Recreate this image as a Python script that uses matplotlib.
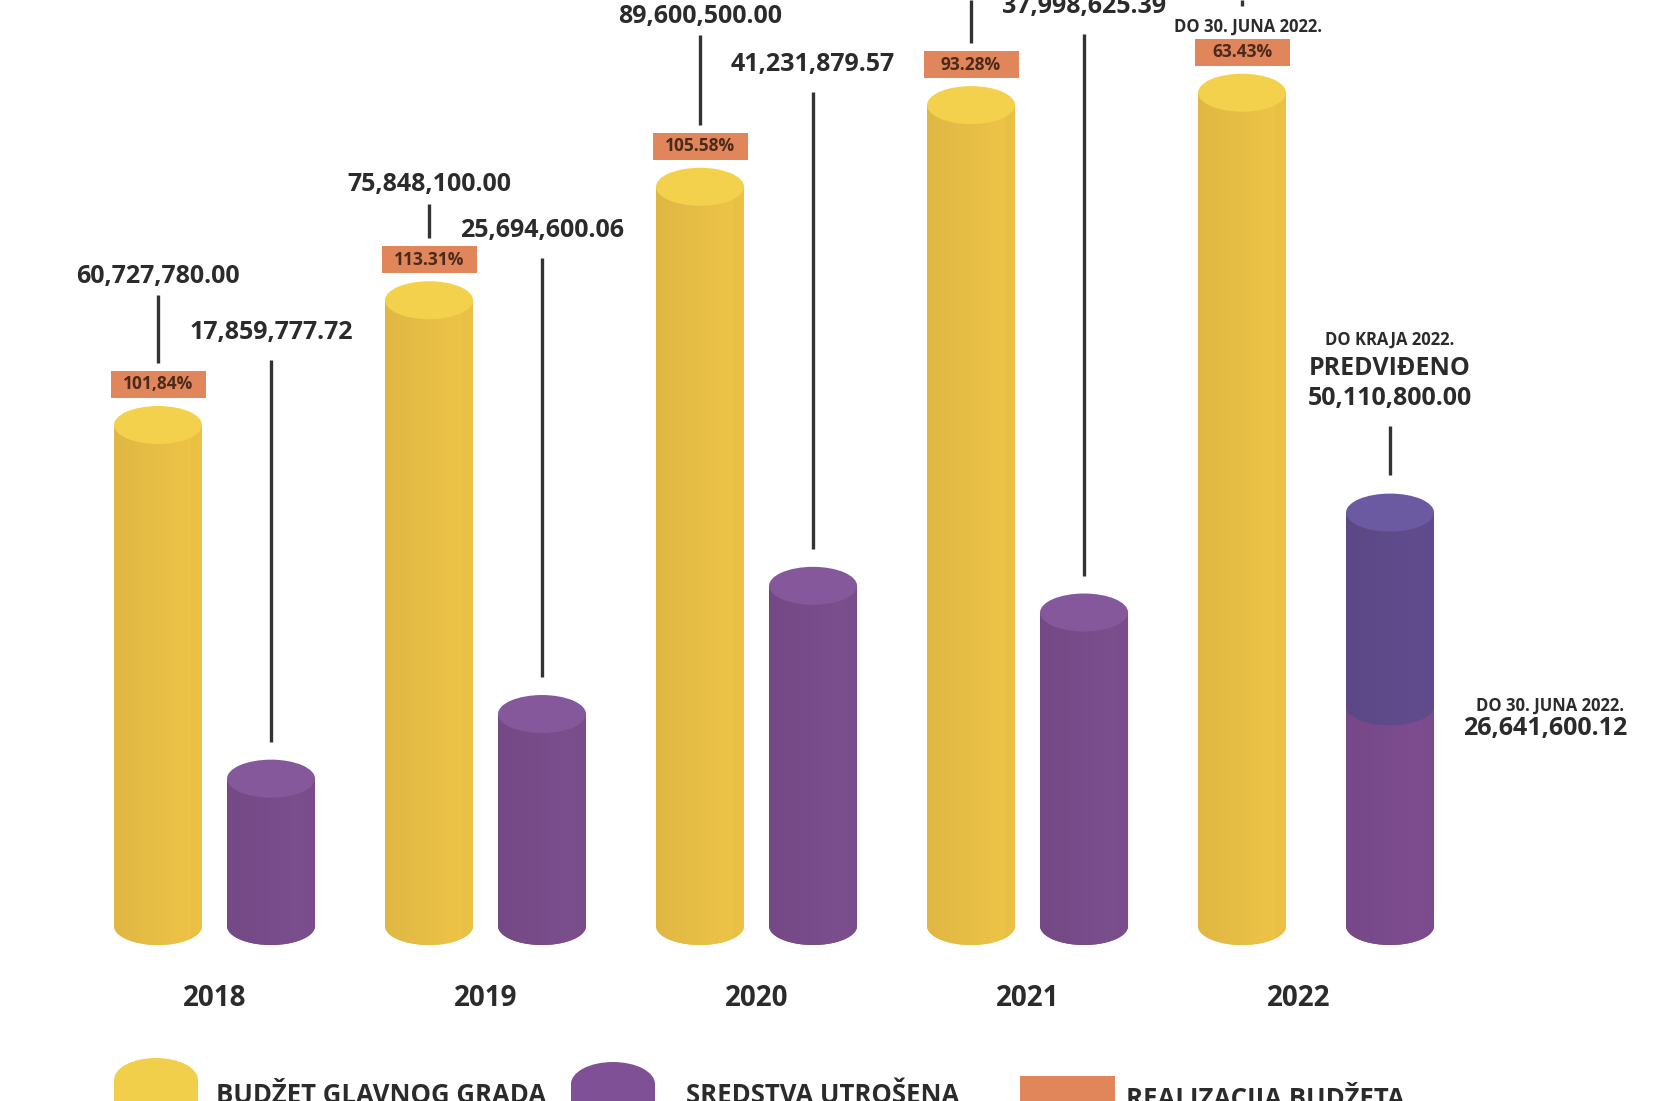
import numpy as np
import matplotlib
matplotlib.use('Agg')
import matplotlib.pyplot as plt
from matplotlib.patches import Polygon, Ellipse, Rectangle
from matplotlib.colors import to_rgb

# data (2021/2022 budget labels are off-canvas, so estimated)
years = ['2018', '2019', '2020', '2021', '2022']
budget = [60727780.00, 75848100.00, 89600500.00, 99500000.00, 101000000.00]
spent = [17859777.72, 25694600.06, 41231879.57, 37998625.39, 50110800.00]
spent_june_2022 = 26641600.12
realization = ['101,84%', '113.31%', '105.58%', '93.28%', '63.43%']

budget_label_px = [276, 185, 16, None, None]   # label centre, px from top
spent_label_px = [332, 230, 64, 6]

YEL, YEL_TOP = '#ebc146', '#f3d14c'
PUR, PUR_TOP = '#7a4d8c', '#84589b'
PUR_LOW = '#7c4c8f'
PUR_PLAN, PUR_PLAN_TOP = '#604c8c', '#6b5aa1'
ORANGE = '#e0865a'
TXT = '#2b2b2b'
FONT = ['Open Sans', 'DejaVu Sans']

W_PX, H_PX = 1654, 1101
fig = plt.figure(figsize=(16.54, 11.01), dpi=100)
ax = fig.add_axes([0, 0, 1, 1])
ax.axis('off')

X0, X1 = -0.583, 5.52
Y0, Y1 = -21.21, 112.24


def dx(n):
    return n * (X1 - X0) / W_PX


def dy(n):
    return n * (Y1 - Y0) / H_PX


def from_top(p):
    return Y1 - dy(p)


def from_left(p):
    return X0 + dx(p)


CYL_W = dx(88)
CAP_H = dy(38)


def shade(color, n=80):
    r = np.array(to_rgb(color))
    t = np.linspace(0, 1, n)
    f = 0.95 + 0.07 * t
    f[t > 0.88] -= 0.02
    return np.clip(r[None, None, :] * f[None, :, None], 0, 1)


def cylinder(x, bottom, top, body, cap, z=2):
    hw = CYL_W / 2
    t = np.linspace(np.pi, 2 * np.pi, 60)
    arc = np.column_stack([x + hw * np.cos(t), bottom + CAP_H / 2 * np.sin(t)])
    pts = np.vstack([[x - hw, top], arc, [x + hw, top]])
    poly = Polygon(pts, closed=True, facecolor=body, edgecolor='none', zorder=z)
    ax.add_patch(poly)
    im = ax.imshow(shade(body), extent=(x - hw, x + hw, bottom - CAP_H, top),
                   aspect='auto', zorder=z, interpolation='bilinear')
    im.set_clip_path(poly)
    ax.add_patch(Ellipse((x, top), CYL_W, CAP_H, facecolor=cap,
                         edgecolor='none', zorder=z + 0.1))


def vline(x, y_a, y_b):
    ax.plot([x, x], [y_a, y_b], color='#333333', lw=2.4, solid_capstyle='butt', zorder=5)


budget_m = np.array(budget) / 1e6
spent_m = np.array(spent) / 1e6
june_m = spent_june_2022 / 1e6
BOX_W, BOX_H = dx(95), dy(27)

for i, yr in enumerate(years):
    xb = i
    cylinder(xb, 0, budget_m[i], YEL, YEL_TOP)

    # realization box
    box_bot = budget_m[i] + CAP_H / 2 + dy(8)
    ax.add_patch(Rectangle((xb - BOX_W / 2, box_bot), BOX_W, BOX_H,
                           facecolor=ORANGE, edgecolor='none', zorder=4))
    ax.text(xb, box_bot + BOX_H / 2, realization[i], ha='center', va='center',
            fontsize=12.5, fontweight='bold', color='#4a2a1c', family=FONT, zorder=6)
    box_top = box_bot + BOX_H

    if budget_label_px[i] is not None:
        ly = from_top(budget_label_px[i])
        ax.text(xb, ly, f'{budget[i]:,.2f}', ha='center', va='center',
                fontsize=18, fontweight='bold', color=TXT, family=FONT)
        vline(xb, ly - dy(19), box_top + dy(8))
    elif i == 3:
        vline(xb, Y1, box_top + dy(8))
    else:
        note_y = box_top + dy(12)
        ax.text(xb + dx(6), note_y, 'DO 30. JUNA 2022.', ha='center', va='center',
                fontsize=12, fontweight='bold', color=TXT, family=FONT)
        vline(xb, Y1, note_y + dy(21))

    # spent
    if i < 4:
        xp = i + 0.417
        cylinder(xp, 0, spent_m[i], PUR, PUR_TOP)
        ly = from_top(spent_label_px[i])
        ax.text(xp, ly, f'{spent[i]:,.2f}', ha='center', va='center',
                fontsize=18, fontweight='bold', color=TXT, family=FONT)
        vline(xp, ly - dy(28), spent_m[i] + CAP_H / 2 + dy(18))
    else:
        xp = i + 0.546
        cylinder(xp, 0, june_m, PUR_LOW, PUR_LOW)
        cylinder(xp, june_m, spent_m[i], PUR_PLAN, PUR_PLAN_TOP, z=3)
        ax.text(xp, from_top(340), 'DO KRAJA 2022.', ha='center', va='center',
                fontsize=12, fontweight='bold', color=TXT, family=FONT)
        ax.text(xp, from_top(369), 'PREDVIĐENO', ha='center', va='center',
                fontsize=18, fontweight='bold', color=TXT, family=FONT)
        ax.text(xp, from_top(399), f'{spent[i]:,.2f}', ha='center', va='center',
                fontsize=18, fontweight='bold', color=TXT, family=FONT)
        vline(xp, from_top(426), spent_m[i] + CAP_H / 2 + dy(19))
        ax.text(from_left(1550), from_top(706), 'DO 30. JUNA 2022.', ha='center',
                va='center', fontsize=12, fontweight='bold', color=TXT, family=FONT)
        ax.text(from_left(1545), from_top(728), f'{spent_june_2022:,.2f}', ha='center',
                va='center', fontsize=18, fontweight='bold', color=TXT, family=FONT)

    ax.text(i + 0.21, from_top(999), yr, ha='center', va='center',
            fontsize=20, fontweight='bold', color=TXT, family=FONT)

# legend, cut by the bottom edge as in the original
for cx, top, col in [(156, 1058, '#f1cf4a'), (613, 1062, '#7f5096')]:
    ax.add_patch(Rectangle((from_left(cx - 42), from_top(1130)), dx(84), dy(1130 - top - 22),
                           facecolor=col, edgecolor='none', zorder=2))
    ax.add_patch(Ellipse((from_left(cx), from_top(top + 22)), dx(84), dy(44),
                         facecolor=col, edgecolor='none', zorder=2))
ax.add_patch(Rectangle((from_left(1020), from_top(1120)), dx(95), dy(44),
                       facecolor=ORANGE, edgecolor='none', zorder=2))
for lx, txt in [(216, 'BUDŽET GLAVNOG GRADA'), (686, 'SREDSTVA UTROŠENA'),
                (1126, 'REALIZACIJA BUDŽETA')]:
    ax.text(from_left(lx), from_top(1082), txt, ha='left', va='top',
            fontsize=18.5, fontweight='bold', color=TXT, family=FONT)

ax.set_xlim(X0, X1)
ax.set_ylim(Y0, Y1)
fig.savefig('out.png', dpi=100, facecolor='white')
